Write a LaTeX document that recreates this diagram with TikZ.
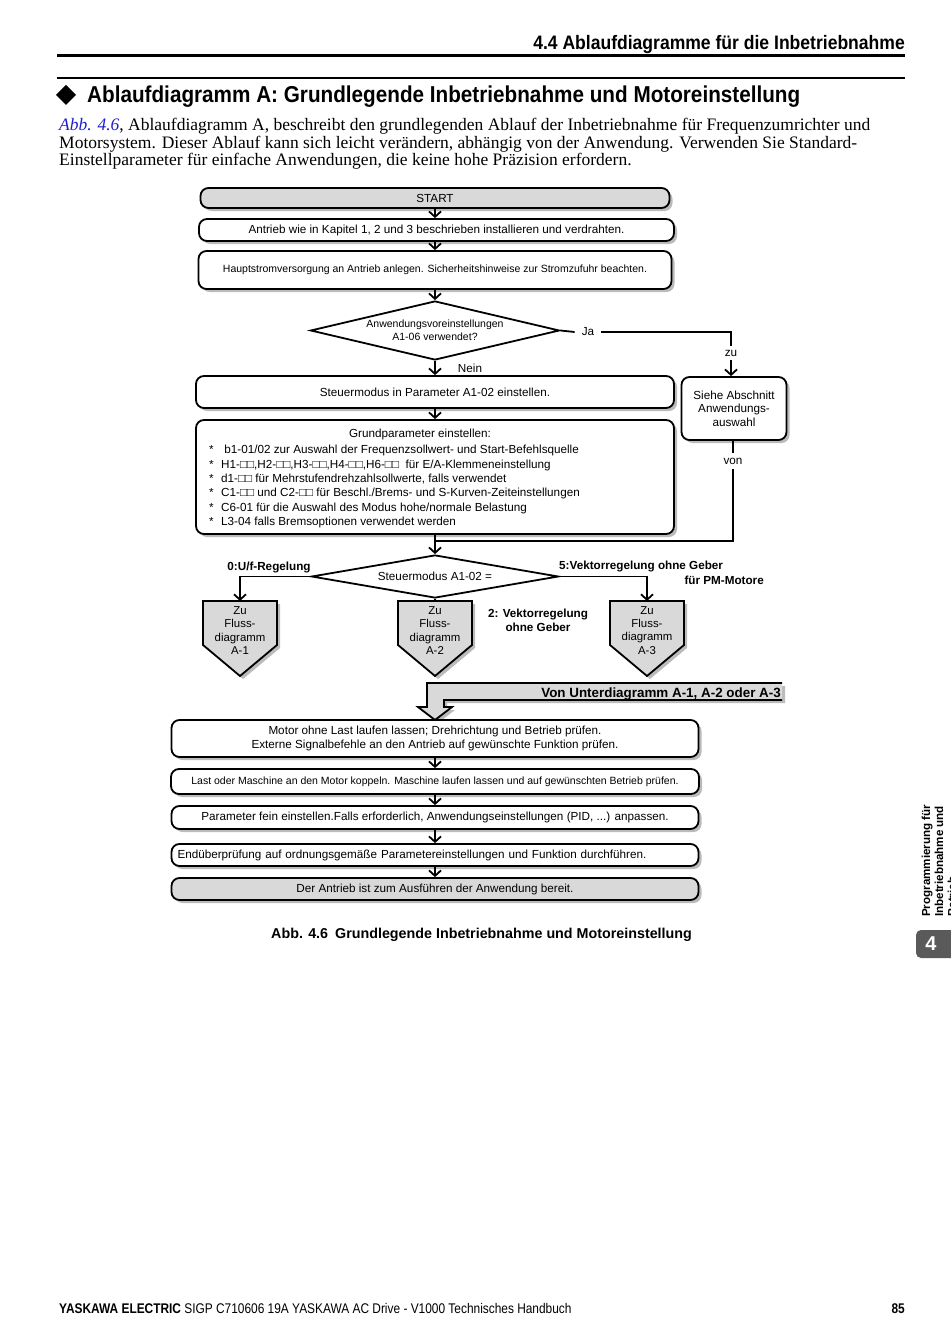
\documentclass[tikz,border=0pt]{standalone}
\usepackage{fontspec}
\setmainfont{Liberation Serif}
\newfontfamily\chartfont{Liberation Sans}
\newfontfamily\narrowfont{Liberation Sans}[FakeStretch=0.85]
\newfontfamily\headfont{Liberation Sans}[FakeStretch=0.9]
\usetikzlibrary{shapes.geometric,arrows.meta,shadows}
\definecolor{boxgray}{HTML}{D9D9D9}
\definecolor{shadegray}{HTML}{BBBBBB}
\definecolor{tabgray}{HTML}{5A5A5A}
\definecolor{linkblue}{HTML}{1F1FCC}
\newcommand{\liststar}{\makebox[12pt][l]{*}}
\tikzset{
  chart/.style={font=\chartfont\fontsize{11.7}{13.5}\selectfont, align=center},
  small/.style={font=\chartfont\fontsize{10.5}{13}\selectfont},
  stepbox/.style={chart, draw, line width=1.8pt, rounded corners=8pt, fill=white, inner sep=2pt,
    drop shadow={shadow xshift=3pt, shadow yshift=-3pt, fill=shadegray, opacity=1}},
  endbox/.style={stepbox, fill=boxgray},
  query/.style={chart, draw, diamond, line width=1.8pt, inner sep=0pt, aspect=4},
  flow/.style={line width=1.8pt, -{Straight Barb[length=5.5pt,width=12pt]}},
  link/.style={line width=1.8pt},
  tag/.style={chart, inner sep=4pt},
  boldtag/.style={font=\chartfont\bfseries\fontsize{11.7}{14}\selectfont, align=center, inner sep=1pt},
}
\begin{document}
\begin{tikzpicture}[x=1pt,y=-1pt]
\useasboundingbox[fill=white] (0,0) rectangle (950,1343);

% Kopfzeile und Einleitung
\node[anchor=base east, inner sep=0, font=\headfont\bfseries\fontsize{19.5}{21}\selectfont] (chapter) at (905,50) {4.4 Ablaufdiagramme für die Inbetriebnahme};
\draw[line width=3pt] (57,56) -- (905,56);
\draw[line width=1.5pt] (57,78) -- (905,78);
\fill (66,85) -- (76,95) -- (66,105) -- (56,95) -- cycle;
\node[anchor=base west, inner sep=0, font=\headfont\bfseries\fontsize{23}{25}\selectfont] (title) at (87,103) {Ablaufdiagramm A: Grundlegende Inbetriebnahme und Motoreinstellung};
\node[anchor=base west, inner sep=0, font=\fontsize{17.5}{17.5}\selectfont] (intro1) at (59,131) {{\color{linkblue}\itshape Abb. 4.6}, Ablaufdiagramm A, beschreibt den grundlegenden Ablauf der Inbetriebnahme für Frequenzumrichter und};
\node[anchor=base west, inner sep=0, font=\fontsize{17.5}{17.5}\selectfont] (intro2) at (59,148.5) {Motorsystem. Dieser Ablauf kann sich leicht verändern, abhängig von der Anwendung. Verwenden Sie Standard-};
\node[anchor=base west, inner sep=0, font=\fontsize{17.5}{17.5}\selectfont] (intro3) at (59,166) {Einstellparameter für einfache Anwendungen, die keine hohe Präzision erfordern.};

% Ablauf oben
\node[endbox, minimum width=469, minimum height=20] (start) at (435,198) {START};
\node[stepbox, minimum width=475, minimum height=22] (inst) at (436.5,230) {Antrieb wie in Kapitel 1, 2 und 3 beschrieben installieren und verdrahten.};
\node[stepbox, small, minimum width=473, minimum height=38] (power) at (435,270) {Hauptstromversorgung an Antrieb anlegen. Sicherheitshinweise zur Stromzufuhr beachten.};
\node[query, small, minimum width=249, minimum height=59] (usage) at (435,330.5) {Anwendungsvoreinstellungen\\A1-06 verwendet?};
\node[tag, inner sep=7pt] (ja) at (588,332) {Ja};
\node[tag] (zu) at (731,353) {zu};
\node[stepbox, minimum width=105, minimum height=63] (siehe) at (734,408.5) {Siehe Abschnitt\\Anwendungs-\\auswahl};
\node[tag] (nein) at (470,368) {Nein};
\node[stepbox, minimum width=478, minimum height=32] (mode) at (435,392) {Steuermodus in Parameter A1-02 einstellen.};
\node[stepbox, minimum width=478, minimum height=114] (basic) at (435,477) {};
\node[chart] (basichead) at (420,434) {Grundparameter einstellen:};
\node[chart, anchor=north west, align=left, inner sep=0, font=\chartfont\fontsize{11.7}{14.4}\selectfont] (basiclist) at (209,445) {\liststar\ b1-01/02 zur Auswahl der Frequenzsollwert- und Start-Befehlsquelle\\
\liststar H1-□□,H2-□□,H3-□□,H4-□□,H6-□□\ \ für E/A-Klemmeneinstellung\\
\liststar d1-□□ für Mehrstufendrehzahlsollwerte, falls verwendet\\
\liststar C1-□□ und C2-□□ für Beschl./Brems- und S-Kurven-Zeiteinstellungen\\
\liststar C6-01 für die Auswahl des Modus hohe/normale Belastung\\
\liststar L3-04 falls Bremsoptionen verwendet werden};
\node[tag, inner sep=5pt] (von) at (733,461) {von};
\coordinate (merge) at (435,541);
\node[query, minimum width=247, minimum height=43] (ctrl) at (435,576.5) {Steuermodus A1-02 =};

\draw[flow] (start.south) -- (start.south |- inst.north);
\draw[flow] (start.south |- inst.south) -- (start.south |- power.north);
\draw[flow] (power.south) -- (usage.north);
\draw[link] (usage.east) -- (ja.west);
\draw[link] (ja.east) -| (zu.north);
\draw[flow] (zu.south) -- (zu.south |- siehe.north);
\draw[flow] (usage.south) -- (usage.south |- mode.north);
\draw[flow] (mode.south) -- (mode.south |- basic.north);
\draw[link] (von.north |- siehe.south) -- (von.north);
\draw[link] (von.south) |- (merge);
\draw[link] (basic.south) -- (merge);
\draw[flow] (merge) -- (ctrl.north);

% Verzweigung
\foreach \nm/\cx/\lab in {fa/240/A-1, fb/435/A-2, fc/647/A-3}{
  \fill[shadegray] (\cx-34,604) -- (\cx+40,604) -- (\cx+40,648) -- (\cx+3,679) -- (\cx-34,648) -- cycle;
  \draw[line width=1.8pt, fill=boxgray] (\cx-37,601) -- (\cx+37,601) -- (\cx+37,645) -- (\cx,676) -- (\cx-37,645) -- cycle;
  \coordinate (\nm-top) at (\cx,601);
  \node[chart, font=\chartfont\fontsize{11.4}{13.2}\selectfont] (\nm) at (\cx,630.5) {Zu\\Fluss-\\diagramm\\\lab};
}
\draw[flow] (ctrl.west) -| (fa-top);
\draw[flow] (ctrl.east) -| (fc-top);
\draw[link] (ctrl.south) -- (fb-top);
\node[boldtag] (uf) at (269,567) {0:U/f-Regelung};
\node[boldtag, anchor=west] (pmtext) at (558,566) {5:Vektorregelung ohne Geber};
\node[boldtag, anchor=east] (pmtext2) at (765,580) {für PM-Motore};
\node[boldtag] (svc) at (538,620) {2: Vektorregelung\\ohne Geber};

% Rueckfuehrung aus Unterdiagrammen
\fill[shadegray] (785,686) -- (430,686) -- (430,710) -- (421,710) -- (438,723) -- (455,710) -- (447,710) -- (447,703) -- (785,703) -- cycle;
\draw[line width=1.8pt, fill=boxgray] (782,683) -- (427,683) -- (427,707) -- (418,707) -- (435,720) -- (452,707) -- (444,707) -- (444,700) -- (782,700);
\coordinate (backtip) at (435,720);
\node[anchor=base east, inner sep=0, font=\chartfont\bfseries\fontsize{13.4}{15}\selectfont] (fromsub) at (781,697) {Von Unterdiagramm A-1, A-2 oder A-3};

% Ablauf unten
\node[stepbox, minimum width=527, minimum height=37] (noload) at (435,738.5) {Motor ohne Last laufen lassen; Drehrichtung und Betrieb prüfen.\\Externe Signalbefehle an den Antrieb auf gewünschte Funktion prüfen.};
\node[stepbox, small, minimum width=528, minimum height=25] (load) at (435,781.5) {Last oder Maschine an den Motor koppeln. Maschine laufen lassen und auf gewünschten Betrieb prüfen.};
\node[stepbox, minimum width=527, minimum height=23] (tune) at (435,817.5) {Parameter fein einstellen.Falls erforderlich, Anwendungseinstellungen (PID, ...) anpassen.};
\node[stepbox, minimum height=22, text width=515pt, inner xsep=6pt, align=left] (check) at (435,855) {Endüberprüfung auf ordnungsgemäße Parametereinstellungen und Funktion durchführen.};
\node[endbox, minimum width=527, minimum height=22] (ready) at (435,889) {Der Antrieb ist zum Ausführen der Anwendung bereit.};
\draw[flow] (noload.south) -- (noload.south |- load.north);
\draw[flow] (load.south) -- (load.south |- tune.north);
\draw[flow] (tune.south) -- (tune.south |- check.north);
\draw[flow] (check.south) -- (check.south |- ready.north);

\node[anchor=base west, inner sep=0, font=\chartfont\bfseries\fontsize{14.3}{16}\selectfont] (caption) at (271,938) {Abb. 4.6\hspace{7pt}Grundlegende Inbetriebnahme und Motoreinstellung};

% Randregister
\node[rotate=90, anchor=base west, inner sep=0, font=\chartfont\bfseries\fontsize{11.6}{13}\selectfont] (side1) at (930,917) {Programmierung für};
\node[rotate=90, anchor=base west, inner sep=0, font=\chartfont\bfseries\fontsize{11.6}{13}\selectfont] (side2) at (943,917) {Inbetriebnahme und};
\node[rotate=90, anchor=base west, inner sep=0, font=\chartfont\bfseries\fontsize{11.6}{13}\selectfont] (side3) at (956,917) {Betrieb};
\fill[tabgray, rounded corners=5pt] (916,930) rectangle (962,958);
\node[text=white, font=\chartfont\bfseries\fontsize{20}{22}\selectfont] (tabnum) at (931,944) {4};

% Fusszeile
\node[anchor=base west, inner sep=0, font=\narrowfont\fontsize{14}{16}\selectfont] (footer) at (59,1313) {\bfseries YASKAWA ELECTRIC\mdseries\ SIGP C710606 19A YASKAWA AC Drive - V1000 Technisches Handbuch};
\node[anchor=base east, inner sep=0, font=\narrowfont\bfseries\fontsize{14}{16}\selectfont] (pagenum) at (905,1313) {85};
\end{tikzpicture}
\end{document}
